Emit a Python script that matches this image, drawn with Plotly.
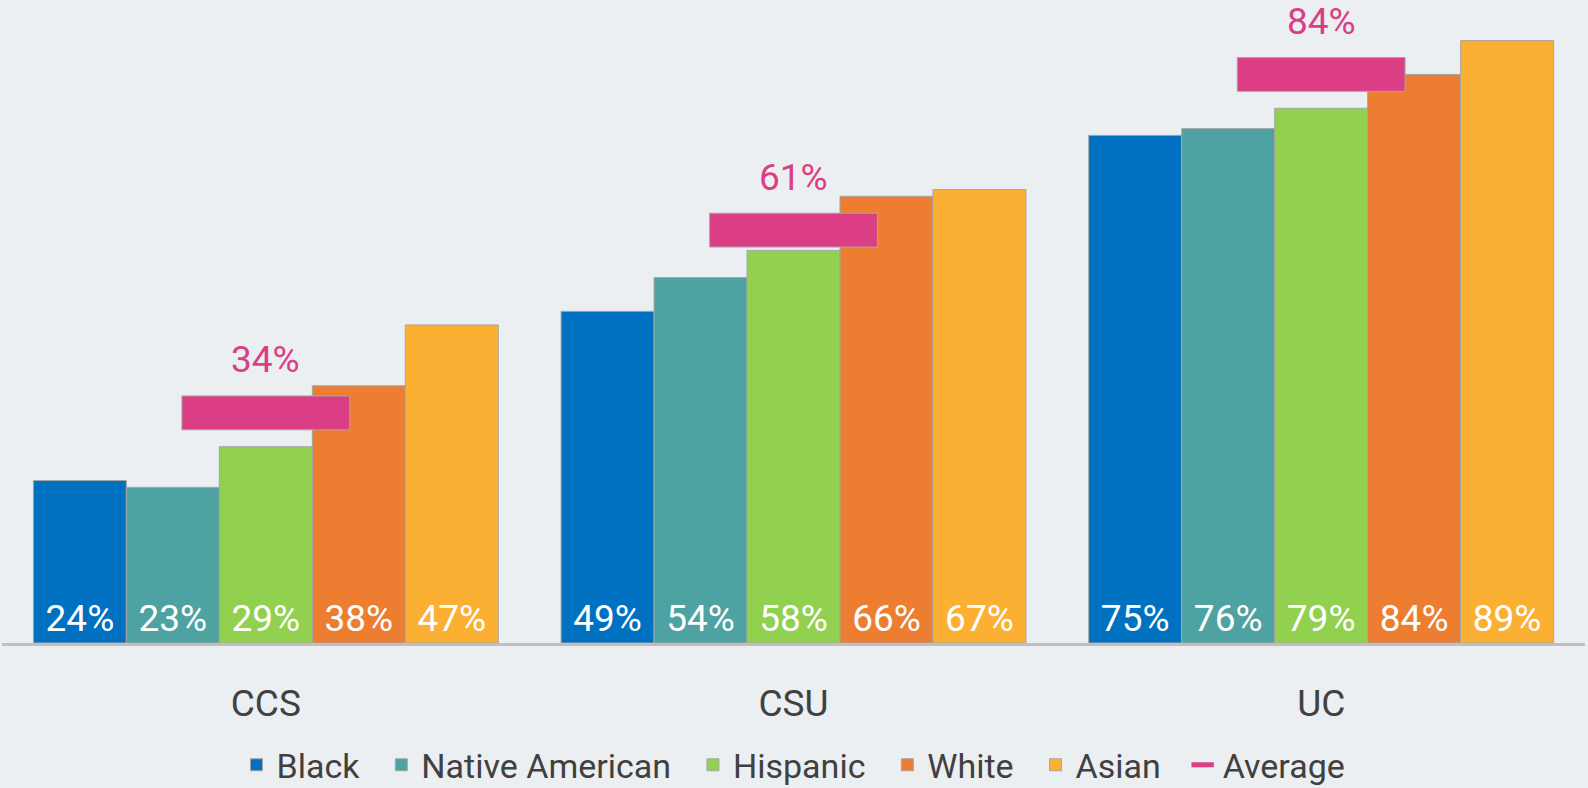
import plotly.graph_objects as go

categories = ["CCS", "CSU", "UC"]
groups = ["Black", "Native American", "Hispanic", "White", "Asian"]
black = [24, 49, 75]
native = [23, 54, 76]
hispanic = [29, 58, 79]
white = [38, 66, 84]
asian = [47, 67, 89]
average = [34, 61, 84]

series = [black, native, hispanic, white, asian]
colors = ["#0070C0", "#4EA2A2", "#92D050", "#ED7D31", "#FBB034"]
pink = "#DB3E84"
FONT = "Roboto, sans-serif"
bg = "#EBEFF2"
PAD = "\u00a0" * 2

fig = go.Figure()
for name, vals, col in zip(groups, series, colors):
    fig.add_trace(go.Bar(
        x=categories, y=vals, name=name + PAD,
        marker=dict(color=col, line=dict(color="#A6A6A6", width=1)),
        text=[f"{v}%" for v in vals], textposition="inside",
        insidetextanchor="start", textangle=0,
        textfont=dict(color="white", size=37, family=FONT),
        cliponaxis=False,
    ))

thick = 5.0
fig.add_trace(go.Bar(
    x=categories, y=[thick] * len(average), base=[a - thick / 2 for a in average],
    width=0.318, xaxis="x2", showlegend=False, hoverinfo="skip",
    marker=dict(color=pink, line=dict(color="#A6A6A6", width=1)),
))
fig.add_trace(go.Scatter(
    x=[None], y=[None], mode="markers", name="Average",
    marker=dict(symbol="line-ew", size=20, color=pink, line=dict(color=pink, width=5)),
))
for c, a in zip(categories, average):
    fig.add_annotation(x=c, y=a, xref="x2", yref="y", text=f"{a}%", showarrow=False,
                       yshift=53, font=dict(color=pink, size=37, family=FONT))

fig.update_layout(
    width=1588, height=788,
    paper_bgcolor=bg, plot_bgcolor=bg,
    margin=dict(l=2, r=3, t=0, b=145, autoexpand=False),
    barmode="group", bargap=0.119, bargroupgap=0,
    font=dict(family=FONT, color="#404040", size=37),
    xaxis=dict(type="category", range=[-0.5, 2.5], showline=True, linecolor="#BFBFBF",
               linewidth=3, showgrid=False, ticks="outside", ticklen=26,
               tickcolor="rgba(0,0,0,0)", tickfont=dict(size=37, color="#404040")),
    xaxis2=dict(type="category", range=[-0.5, 2.5], overlaying="x", visible=False),
    yaxis=dict(range=[0, 95], visible=False, showgrid=False, zeroline=False),
    legend=dict(orientation="h", x=0.5, xanchor="center", y=-0.19, yanchor="middle",
                font=dict(size=34, color="#404040", family=FONT), bgcolor="rgba(0,0,0,0)"),
    showlegend=True,
)
fig.write_html("out.html", config={"displayModeBar": False},
               post_script="document.body.style.margin='0';document.body.style.overflow='hidden';")
